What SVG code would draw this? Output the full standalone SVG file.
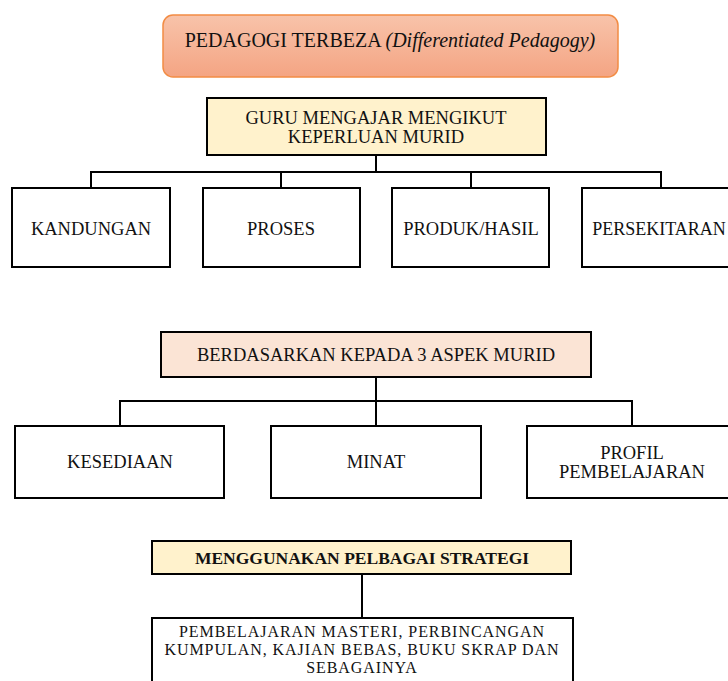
<svg xmlns="http://www.w3.org/2000/svg" width="728" height="681" viewBox="0 0 728 681">
<defs>
<linearGradient id="tg" x1="0" y1="0" x2="0" y2="1">
<stop offset="0" stop-color="#F8C3AA"/>
<stop offset="1" stop-color="#F4A483"/>
</linearGradient>
</defs>
<style>
.box{stroke:#000;stroke-width:2;fill:#fff}
.yel{fill:#FFF2CC}
.pink{fill:#FBE4D5}
text{font-family:'Liberation Serif','Times New Roman',serif;font-size:18.5px;fill:#111;text-anchor:middle}
.b{font-weight:bold;font-size:17.5px}
.s{font-size:16px;letter-spacing:0.95px}
.ln{stroke:#000;stroke-width:2;fill:none}
</style>
<rect width="728" height="681" fill="#fff"/>
<g id="title">
<rect x="163" y="15" width="455" height="62" rx="10" fill="url(#tg)" stroke="#F28C44" stroke-width="1.5"/>
<text x="390" y="47" style="font-size:20px">PEDAGOGI TERBEZA <tspan font-style="italic">(Differentiated Pedagogy)</tspan></text>
</g>
<g id="connectors">
<path class="ln" d="M376 155V172M91 188V172H661V188M281 172V188M471 172V188"/>
<path class="ln" d="M376 377V401M120 426V401H632V426M376 401V426"/>
<path class="ln" d="M362 574V618"/>
</g>
<g id="guru">
<rect class="box yel" x="207" y="98" width="339" height="57"/>
<text x="376" y="124">GURU MENGAJAR MENGIKUT</text>
<text x="376" y="143">KEPERLUAN MURID</text>
</g>
<g id="kandungan">
<rect class="box" x="12" y="188" width="158" height="79"/>
<text x="91" y="235">KANDUNGAN</text>
</g>
<g id="proses">
<rect class="box" x="203" y="188" width="157" height="79"/>
<text x="281" y="235">PROSES</text>
</g>
<g id="produk">
<rect class="box" x="392" y="188" width="157" height="79"/>
<text x="471" y="235">PRODUK/HASIL</text>
</g>
<g id="persekitaran">
<rect class="box" x="582" y="188" width="160" height="79"/>
<text x="659" y="235" style="font-size:18px">PERSEKITARAN</text>
</g>
<g id="berdasarkan">
<rect class="box pink" x="161" y="332" width="430" height="45"/>
<text x="376" y="361">BERDASARKAN KEPADA 3 ASPEK MURID</text>
</g>
<g id="kesediaan">
<rect class="box" x="15" y="426" width="209" height="72"/>
<text x="120" y="468">KESEDIAAN</text>
</g>
<g id="minat">
<rect class="box" x="271" y="426" width="210" height="72"/>
<text x="376" y="468">MINAT</text>
</g>
<g id="profil">
<rect class="box" x="527" y="426" width="212" height="72"/>
<text x="632" y="459">PROFIL</text>
<text x="632" y="478">PEMBELAJARAN</text>
</g>
<g id="menggunakan">
<rect class="box yel" x="152" y="541" width="419" height="33"/>
<text class="b" x="362" y="564">MENGGUNAKAN PELBAGAI STRATEGI</text>
</g>
<g id="strategi">
<rect class="box" x="152" y="618" width="421" height="80"/>
<text class="s" x="362" y="637">PEMBELAJARAN MASTERI, PERBINCANGAN</text>
<text class="s" x="362" y="655">KUMPULAN, KAJIAN BEBAS, BUKU SKRAP DAN</text>
<text class="s" x="362" y="673">SEBAGAINYA</text>
</g>
</svg>
